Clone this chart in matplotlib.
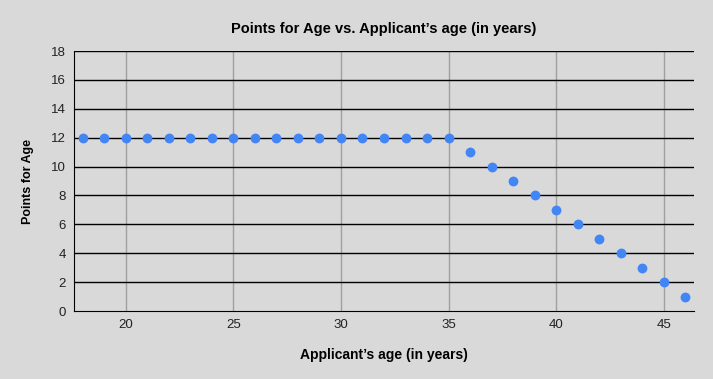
import matplotlib
matplotlib.use('Agg')
import matplotlib.pyplot as plt

ages = [18, 19, 20, 21, 22, 23, 24, 25, 26, 27, 28, 29, 30, 31, 32, 33, 34, 35,
        36, 37, 38, 39, 40, 41, 42, 43, 44, 45, 46]
points = [12, 12, 12, 12, 12, 12, 12, 12, 12, 12, 12, 12, 12, 12, 12, 12, 12, 12,
          11, 10, 9, 8, 7, 6, 5, 4, 3, 2, 1]
x_ticks = [20, 25, 30, 35, 40, 45]
y_ticks = [0, 2, 4, 6, 8, 10, 12, 14, 16, 18]

plt.rcParams['font.family'] = ['Liberation Sans', 'DejaVu Sans']
BG = '#d9d9d9'

fig = plt.figure(figsize=(7.13, 3.79), dpi=100, facecolor=BG)
ax = fig.add_axes([0.1038, 0.1794, 0.8695, 0.686])
ax.set_facecolor(BG)

ax.set_xlim(17.6, 46.4)
ax.set_ylim(0, 18)
ax.set_xticks(x_ticks)
ax.set_yticks(y_ticks)

# vertical grid gray, horizontal grid black
for x in x_ticks:
    ax.axvline(x, color='#a0a0a0', lw=1, zorder=1)
for y in y_ticks[1:]:
    ax.axhline(y, color='black', lw=1, zorder=1)

ax.scatter(ages, points, s=50, color='#4285f4', zorder=3, linewidths=0)

for s in ['top', 'right']:
    ax.spines[s].set_visible(False)
ax.spines['left'].set_color('black')
ax.spines['bottom'].set_color('black')
ax.tick_params(length=0, labelsize=9.5, colors='#222222', pad=6)

ax.set_title("Points for Age vs. Applicant\u2019s age (in years)", fontsize=10.5,
             fontweight='bold', pad=13)
ax.set_xlabel("Applicant\u2019s age (in years)", fontsize=10, fontweight='bold', labelpad=12)
ax.set_ylabel("Points for Age", fontsize=9, fontweight='bold', labelpad=12)

fig.savefig('out.png', dpi=100, facecolor=BG)
